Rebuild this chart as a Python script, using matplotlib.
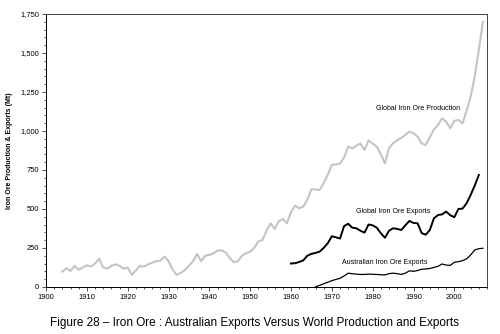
import matplotlib
matplotlib.use("Agg")
import matplotlib.pyplot as plt
from matplotlib.ticker import MultipleLocator, FuncFormatter

plt.rcParams['font.family'] = ['Liberation Sans', 'DejaVu Sans']

# global iron ore production (Mt)
prod_years = list(range(1904, 2008))
prod_values = [98, 120, 102, 135, 109, 125, 139, 130, 150, 180,
               125, 117, 135, 145, 135, 117, 125, 77, 105, 135,
               130, 145, 155, 165, 168, 195, 165, 110, 77, 90,
               108, 135, 165, 211, 165, 200, 205, 215, 233, 235,
               220, 185, 158, 165, 200, 216, 225, 250, 292, 300,
               360, 408, 372, 420, 436, 408, 480, 521, 504, 515,
               560, 626, 625, 622, 665, 720, 782, 786, 790, 830,
               899, 888, 905, 920, 878, 940, 920, 899, 850, 793,
               890, 921, 940, 955, 975, 996, 985, 964, 920, 910,
               960, 1010, 1038, 1081, 1060, 1017, 1065, 1071, 1049, 1130,
               1220, 1350, 1520, 1700]

# global iron ore exports (Mt)
gexp_years = list(range(1960, 2007))
gexp_values = [150, 152, 160, 170, 200, 212, 218, 226, 250, 280,
               325, 318, 310, 390, 405, 380, 376, 360, 348, 400,
               395, 380, 344, 315, 360, 376, 372, 365, 395, 423,
               410, 408, 345, 335, 365, 440, 461, 465, 483, 460,
               447, 500, 502, 536, 590, 650, 718]

# australian iron ore exports (Mt)
aexp_years = list(range(1966, 2008))
aexp_values = [0, 10, 20, 30, 40, 48, 55, 70, 88, 85,
               82, 80, 80, 82, 81, 80, 78, 77, 85, 88,
               85, 80, 88, 103, 100, 105, 113, 115, 118, 125,
               132, 147, 140, 138, 158, 162, 168, 180, 205, 237,
               245, 248]

fig = plt.figure(figsize=(5, 3.34), dpi=100)
ax = fig.add_axes([0.092, 0.141, 0.882, 0.817])

ax.plot(prod_years, prod_values, color='#c4c4c4', lw=1.5)
ax.plot(gexp_years, gexp_values, color='black', lw=1.4)
ax.plot(aexp_years, aexp_values, color='black', lw=0.9)

ax.text(1991, 1141, 'Global Iron Ore Production', fontsize=5, ha='center', va='center')
ax.text(1985, 481, 'Global Iron Ore Exports', fontsize=5, ha='center', va='center')
ax.text(1983, 154, 'Australian Iron Ore Exports', fontsize=5, ha='center', va='center')

ax.set_xlim(1900, 2008)
ax.set_ylim(0, 1750)
ax.xaxis.set_major_locator(MultipleLocator(10))
ax.xaxis.set_minor_locator(MultipleLocator(2))
ax.yaxis.set_major_locator(MultipleLocator(250))
ax.yaxis.set_minor_locator(MultipleLocator(50))
ax.yaxis.set_major_formatter(FuncFormatter(lambda v, p: f"{int(v):,}"))
ax.tick_params(which='both', direction='out', labelsize=5.4, width=0.6, color='#333333', pad=2)
ax.tick_params(which='major', length=3)
ax.tick_params(which='minor', length=1.5)
ax.tick_params(axis='both', top=False, right=False)
for s in ax.spines.values():
    s.set_linewidth(0.7)
    s.set_color('#444444')
ax.spines['left'].set_color('black')
ax.spines['bottom'].set_color('black')

ax.set_ylabel('Iron Ore Production & Exports (Mt)', fontsize=5, fontweight='bold', labelpad=5)

fig.text(0.51, 0.033, 'Figure 28 \u2013 Iron Ore : Australian Exports Versus World Production and Exports',
         ha='center', va='center', fontsize=8.5)

fig.savefig('out.png', dpi=100)
